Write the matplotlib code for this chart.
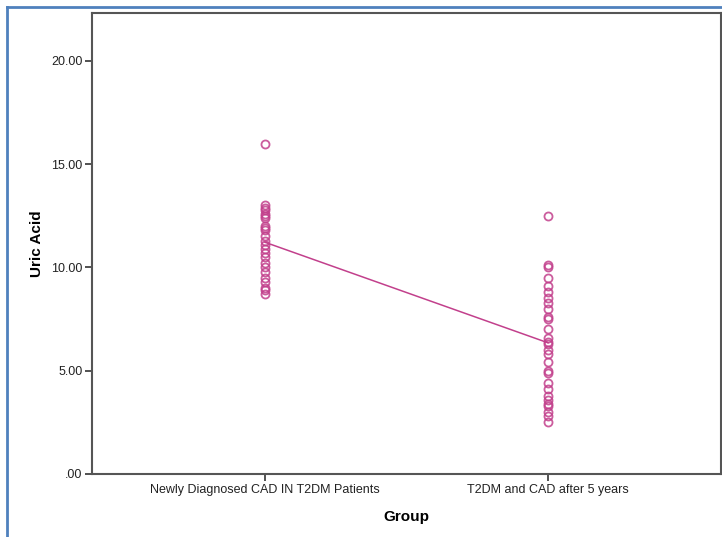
import numpy as np
import matplotlib
matplotlib.use('Agg')
import matplotlib.pyplot as plt
from matplotlib.lines import Line2D

plt.rcParams['font.family'] = ['Liberation Sans', 'DejaVu Sans']

# data
groups = ['Newly Diagnosed CAD IN T2DM Patients', 'T2DM and CAD after 5 years']
newly_dx = [16.0, 13.0, 12.9, 12.8, 12.6, 12.5, 12.4, 12.0, 11.9, 11.8, 11.5, 11.3,
            11.1, 10.9, 10.7, 10.5, 10.2, 10.0, 9.8, 9.5, 9.3, 9.0, 8.9, 8.7]
after_5y = [12.5, 10.1, 10.0, 9.5, 9.1, 8.8, 8.5, 8.3, 8.0, 7.6, 7.5, 7.0, 6.6,
            6.4, 6.3, 6.0, 5.8, 5.4, 5.0, 4.9, 4.4, 4.1, 3.8, 3.6, 3.4, 3.3,
            3.0, 2.8, 2.5]
yticks = [0, 5, 10, 15, 20]
ytick_labels = ['.00', '5.00', '10.00', '15.00', '20.00']

PINK = '#c2408c'

fig = plt.figure(figsize=(7.22, 5.37), dpi=100)
ax = fig.add_axes([92 / 722, 1 - 474 / 537, (721 - 92) / 722, (474 - 13) / 537])

for i, vals in enumerate([newly_dx, after_5y]):
    ax.plot([i] * len(vals), vals, 'o', mfc='none', mec=PINK, ms=5.8, mew=1.3, alpha=0.85)

means = [np.mean(newly_dx), np.mean(after_5y)]
ax.plot([0, 1], means, '-', color=PINK, lw=1.1)

ax.set_xlim(-0.611, 1.611)
ax.set_ylim(0, 22.32)
ax.set_xticks([0, 1])
ax.set_xticklabels(groups, fontsize=9, color='#222222')
ax.set_yticks(yticks)
ax.set_yticklabels(ytick_labels, fontsize=9, color='#222222')
ax.tick_params(direction='out', length=5, width=1.2, color='#333333', pad=2)

for s in ax.spines.values():
    s.set_color('#555555')
    s.set_linewidth(1.5)

ax.set_ylabel('Uric Acid', fontsize=11, fontweight='bold', labelpad=5)
ax.set_xlabel('Group', fontsize=11, fontweight='bold', labelpad=10)

# blue border of the output window
fig.add_artist(Line2D([7 / 722, 7 / 722], [0, 1 - 7 / 537], transform=fig.transFigure,
                      color='#4f81bd', lw=2))
fig.add_artist(Line2D([7 / 722, 1], [1 - 7 / 537, 1 - 7 / 537], transform=fig.transFigure,
                      color='#4f81bd', lw=2))

fig.savefig('out.png', dpi=100)
